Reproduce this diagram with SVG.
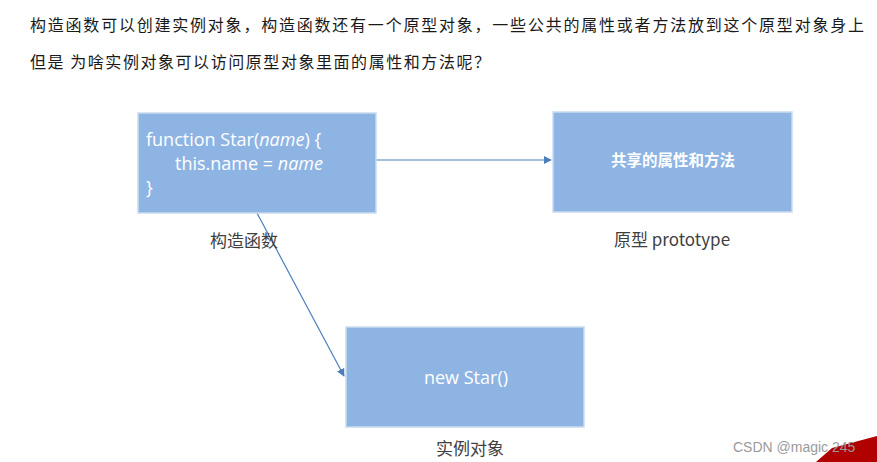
<svg xmlns="http://www.w3.org/2000/svg" width="877" height="462" viewBox="0 0 877 462">
<defs>
<style>
.box{fill:#8eb4e3;stroke:#c9dbf1;stroke-width:1.5}
.cn{font-family:"Noto Sans CJK SC","Noto Sans",sans-serif}
.top{font-size:16px;fill:#1a1a1a}
.lbl{font-size:17px;fill:#404040;text-anchor:middle}
.wt{fill:#ffffff;font-family:"Open Sans","Noto Sans CJK SC",sans-serif}
.con{stroke:#4a7ebb;stroke-width:1.2;fill:none;marker-end:url(#ah)}
</style>
<marker id="ah" viewBox="0 0 10 10" refX="9" refY="5" markerWidth="8" markerHeight="8" markerUnits="userSpaceOnUse" orient="auto">
<path d="M0,0 L10,5 L0,10 z" fill="#4a7ebb"/>
</marker>
</defs>
<rect width="877" height="462" fill="#ffffff"/>
<g id="heading">
<text class="cn top" x="30" y="31" textLength="834" lengthAdjust="spacing">构造函数可以创建实例对象，构造函数还有一个原型对象，一些公共的属性或者方法放到这个原型对象身上</text>
<text class="cn top" x="30" y="68" textLength="460" lengthAdjust="spacing">但是 为啥实例对象可以访问原型对象里面的属性和方法呢？</text>
</g>
<g id="connectors">
<line class="con" x1="376" y1="160" x2="551" y2="160"/>
<line class="con" x1="257" y1="213" x2="344" y2="376"/>
</g>
<g id="constructor">
<rect class="box" x="138" y="113" width="238" height="100"/>
<text class="wt" x="146" y="146" font-size="18">function Star(<tspan font-style="italic">name</tspan>) {</text>
<text class="wt" x="175" y="170" font-size="18">this.name = <tspan font-style="italic">name</tspan></text>
<text class="wt" x="146" y="194" font-size="18">}</text>
<text class="cn lbl" x="244" y="247">构造函数</text>
</g>
<g id="prototype">
<rect class="box" x="553" y="112" width="239" height="100"/>
<text class="cn wt" x="673" y="166" font-size="15.5" text-anchor="middle" font-weight="bold">共享的属性和方法</text>
<text class="cn lbl" x="672" y="246">原型 prototype</text>
</g>
<g id="instance">
<rect class="box" x="346" y="327" width="238" height="100"/>
<text class="wt" x="466" y="384" font-size="18" text-anchor="middle">new Star()</text>
<text class="cn lbl" x="470" y="455">实例对象</text>
</g>
<g id="watermark">
<polygon points="816,462 832,448 877,436 877,462" fill="#b00000"/>
<text x="733" y="452" font-family="Liberation Sans, sans-serif" font-size="14" fill="#9a9a9a">CSDN @magic 245</text>
</g>
</svg>
